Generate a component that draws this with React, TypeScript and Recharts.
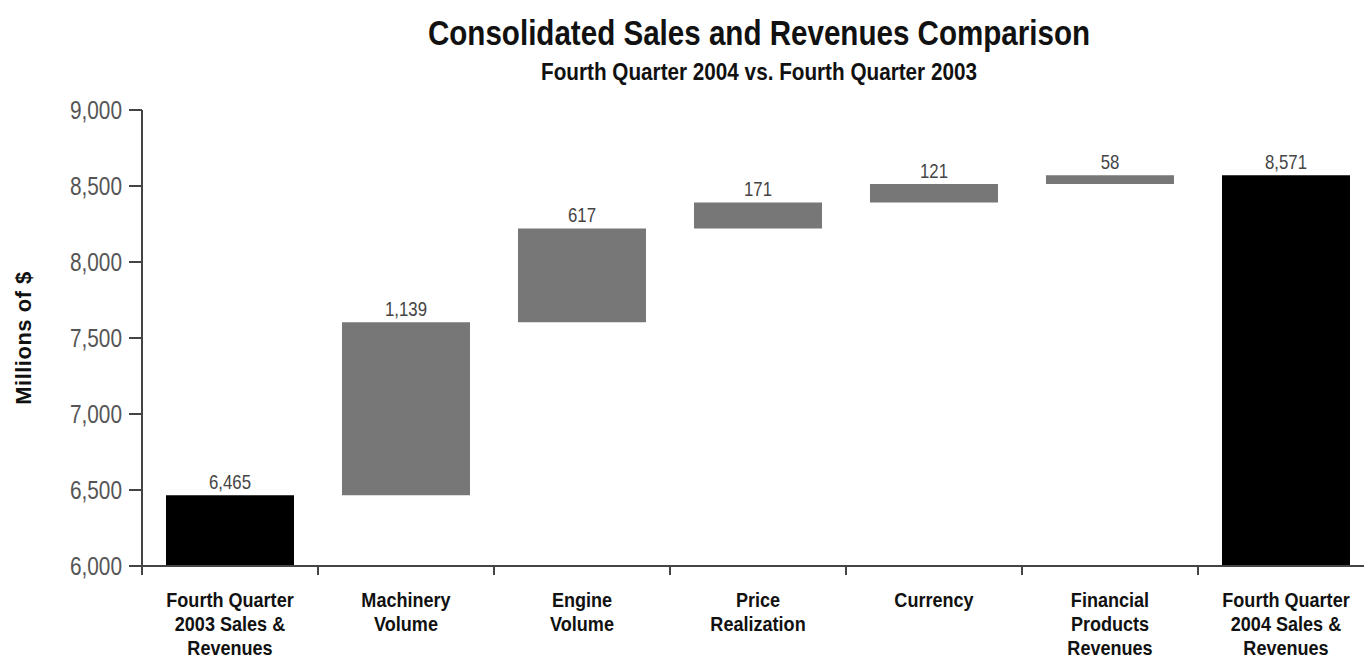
import { BarChart, Bar, XAxis, YAxis, Cell, LabelList } from 'recharts'

// categories (one entry per bar, line breaks as in the original)
const categories = [
  'Fourth Quarter\n2003 Sales &\nRevenues',
  'Machinery\nVolume',
  'Engine\nVolume',
  'Price\nRealization',
  'Currency',
  'Financial\nProducts\nRevenues',
  'Fourth Quarter\n2004 Sales &\nRevenues',
]
const startTotal = 6465
const changes = [1139, 617, 171, 121, 58]
const endTotal = 8571
const yTicks = [6000, 6500, 7000, 7500, 8000, 8500, 9000]

// no condensed font installed, so Liberation Sans gets squeezed horizontally
const FONT = "'Liberation Sans', Arial, sans-serif"
const W = 1380
const H = 660
const MARGIN = { top: 110, right: 6, bottom: 0, left: 0 }
const Y_AXIS_W = 142
const X_AXIS_H = 94
const BAND = (W - MARGIN.left - MARGIN.right - Y_AXIS_W) / categories.length
const AXIS_Y = H - MARGIN.bottom - X_AXIS_H
const Y_MIN = yTicks[0]
const Y_MAX = yTicks[yTicks.length - 1]

// waterfall rows: totals start at the axis floor, changes float on the running total
let running = startTotal
const data = [
  { name: categories[0], range: [Y_MIN, startTotal], label: startTotal, total: true },
  ...changes.map((c, i) => {
    const low = running
    running += c
    return { name: categories[i + 1], range: [low, running], label: c, total: false }
  }),
  { name: categories[categories.length - 1], range: [Y_MIN, endTotal], label: endTotal, total: true },
]

const fmt = (v: number) => v.toLocaleString('en-US')

function Narrow({ x, y, sx = 0.84, anchor = 'middle', size, bold = false, fill = '#111', dy, children }: any) {
  return (
    <g transform={`translate(${x} ${y}) scale(${sx} 1)`}>
      <text x={0} y={0} dy={dy} textAnchor={anchor} fontFamily={FONT} fontSize={size}
        fontWeight={bold ? 'bold' : 'normal'} fill={fill}>
        {children}
      </text>
    </g>
  )
}

function CategoryTick({ x, payload }: any) {
  const lines = String(payload.value).split('\n')
  const left = x - BAND / 2
  return (
    <g>
      <line x1={left} x2={left} y1={AXIS_Y} y2={AXIS_Y + 9} stroke="#444" strokeWidth={2} />
      {lines.map((l, i) => (
        <Narrow key={i} x={x} y={AXIS_Y + 41 + i * 24} size={21} sx={0.86} bold fill="#111">{l}</Narrow>
      ))}
    </g>
  )
}

function ValueTick({ x, y, payload }: any) {
  return <Narrow x={x} y={y} anchor="end" dy="0.355em" size={26} sx={0.8} fill="#555">{fmt(payload.value)}</Narrow>
}

function BarLabel({ x, y, width, value }: any) {
  return <Narrow x={Number(x) + Number(width) / 2} y={Number(y) - 6} size={20} sx={0.84} fill="#444">{fmt(Number(value))}</Narrow>
}

export default function App() {
  return (
    <div style={{ position: 'absolute', left: 0, top: 0, width: 1364, height: 660, overflow: 'hidden', background: '#fff', fontFamily: FONT }}>
      <BarChart width={W} height={H} data={data} margin={MARGIN} barSize={128}>
        <XAxis
          dataKey="name"
          height={X_AXIS_H}
          interval={0}
          tickLine={false}
          axisLine={{ stroke: '#444', strokeWidth: 2 }}
          tick={<CategoryTick />}
        />
        <YAxis
          width={Y_AXIS_W}
          domain={[Y_MIN, Y_MAX]}
          ticks={yTicks}
          allowDataOverflow
          tickSize={13}
          tickMargin={7}
          tickLine={{ stroke: '#444', strokeWidth: 2 }}
          axisLine={{ stroke: '#444', strokeWidth: 2 }}
          tick={<ValueTick />}
        />
        <Bar dataKey="range" isAnimationActive={false}>
          {data.map((d, i) => (
            <Cell key={i} fill={d.total ? '#000' : '#777'} />
          ))}
          <LabelList dataKey="label" content={<BarLabel />} />
        </Bar>
      </BarChart>
      <svg width={1364} height={660} style={{ position: 'absolute', left: 0, top: 0, pointerEvents: 'none' }}>
        <Narrow x={759} y={45} size={35} sx={0.845} bold>Consolidated Sales and Revenues Comparison</Narrow>
        <Narrow x={759} y={80} size={23} sx={0.9} bold>Fourth Quarter 2004 vs. Fourth Quarter 2003</Narrow>
        <text x={31} y={338} transform="rotate(-90 31 338)" textAnchor="middle" fontFamily={FONT} fontSize={22}
          fontWeight="bold" letterSpacing={0.5} fill="#111">
          Millions of $
        </text>
      </svg>
    </div>
  )
}
